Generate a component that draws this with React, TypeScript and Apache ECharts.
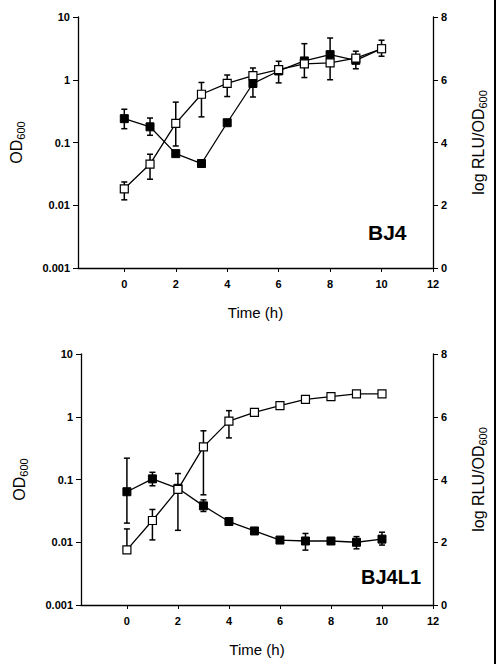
import React, { useEffect, useRef } from "react";
import * as echarts from "echarts";

const times = [0, 1, 2, 3, 4, 5, 6, 7, 8, 9, 10];
const xTickValues = [0, 2, 4, 6, 8, 10, 12];

// Panel A (BJ4)
const bj4Od = [0.0183, 0.0453, 0.202, 0.587, 0.873, 1.16, 1.45, 1.79, 1.86, 2.21, 3.12];
const bj4OdErr: [number, number, number][] = [
  [0, 0.0122, 0.0235],
  [1, 0.026, 0.065],
  [2, 0.088, 0.44],
  [3, 0.256, 0.905],
  [4, 0.54, 1.19],
  [5, 1.16, 1.54],
];
const bj4Rlu = [4.76, 4.5, 3.645, 3.33, 4.63, 5.88, 6.28, 6.6, 6.8, 6.62, 6.99];
const bj4RluErr: [number, number, number][] = [
  [0, 4.44, 5.06],
  [1, 4.23, 4.78],
  [5, 5.45, 6.25],
  [6, 5.9, 6.59],
  [7, 6.07, 7.15],
  [8, 6.0, 7.33],
  [9, 6.35, 6.91],
  [10, 6.75, 7.26],
];

// Panel B (BJ4L1)
const bj4l1Od = [0.00754, 0.0222, 0.0697, 0.331, 0.852, 1.17, 1.5, 1.89, 2.09, 2.31, 2.31];
const bj4l1OdErr: [number, number, number][] = [
  [0, 0.00754, 0.0163],
  [1, 0.0109, 0.0333],
  [3, 0.057, 0.597],
  [4, 0.46, 1.25],
];
const bj4l1Rlu = [3.61, 4.02, 3.72, 3.16, 2.66, 2.36, 2.07, 2.04, 2.04, 2.0, 2.1];
const bj4l1RluErr: [number, number, number][] = [
  [0, 2.61, 4.68],
  [1, 3.8, 4.23],
  [2, 2.38, 4.19],
  [3, 2.98, 3.35],
  [7, 1.75, 2.28],
  [9, 1.79, 2.18],
  [10, 1.91, 2.32],
];

const leftTicks = ["0.001", "0.01", "0.1", "1", "10"];
const rightTicks = [0, 2, 4, 6, 8];
const panelLabels = ["BJ4", "BJ4L1"];

const FONT = "Liberation Sans, Arial, sans-serif";

function errRender(params: any, api: any) {
  const x = api.value(0);
  const lo = api.coord([x, api.value(1)]);
  const hi = api.coord([x, api.value(2)]);
  const cap = 3;
  const style = { stroke: "#000", lineWidth: 1.5 };
  return {
    type: "group",
    children: [
      { type: "line", shape: { x1: lo[0], y1: lo[1], x2: hi[0], y2: hi[1] }, style },
      { type: "line", shape: { x1: hi[0] - cap, y1: hi[1], x2: hi[0] + cap, y2: hi[1] }, style },
      { type: "line", shape: { x1: lo[0] - cap, y1: lo[1], x2: lo[0] + cap, y2: lo[1] }, style },
    ],
  };
}

const rich = {
  b: { fontSize: 16, fontFamily: FONT, color: "#000" },
  s: { fontSize: 11, fontFamily: FONT, color: "#000", padding: [8, 0, 0, 0] },
};

export default function App() {
  const ref = useRef<HTMLDivElement>(null);
  useEffect(() => {
    document.body.style.margin = "0";
    const chart = echarts.init(ref.current!, null, { renderer: "svg" });
    const grids = [
      { left: 78, top: 17, width: 359, height: 251 },
      { left: 81, top: 354, width: 360, height: 251 },
    ];
    const xAxes = grids.map((_, i) => ({
      type: "value",
      gridIndex: i,
      min: -1.8,
      max: 12,
      name: "Time (h)",
      nameLocation: "middle",
      nameGap: 37,
      nameTextStyle: { fontSize: 15, fontFamily: FONT, color: "#000" },
      axisLine: { onZero: false, lineStyle: { color: "#000", width: 1.3 } },
      axisTick: { show: true, customValues: xTickValues, length: 4, lineStyle: { color: "#000" } },
      axisLabel: {
        customValues: xTickValues,
        fontSize: 11,
        fontWeight: "bold",
        fontFamily: FONT,
        color: "#000",
        margin: 10,
      },
      splitLine: { show: false },
    }));
    const yAxes: any[] = [];
    grids.forEach((_, i) => {
      yAxes.push({
        type: "log",
        logBase: 10,
        gridIndex: i,
        min: 0.001,
        max: 10,
        position: "left",
        name: "{b|OD}{s|600}",
        nameLocation: "middle",
        nameGap: 52,
        nameRotate: 90,
        nameTextStyle: { rich },
        axisLine: { show: true, onZero: false, lineStyle: { color: "#000", width: 1.3 } },
        axisTick: { show: true, length: 5, lineStyle: { color: "#000" } },
        minorTick: { show: false },
        axisLabel: {
          fontSize: 11,
          fontWeight: "bold",
          fontFamily: FONT,
          color: "#000",
          margin: 8,
          formatter: (v: number) => {
            const idx = Math.round(Math.log10(v)) + 3;
            return leftTicks[idx] ?? "";
          },
        },
        splitLine: { show: false },
      });
      yAxes.push({
        type: "value",
        gridIndex: i,
        min: 0,
        max: 8,
        interval: 2,
        position: "right",
        name: "{b|log RLU/OD}{s|600}",
        nameLocation: "middle",
        nameGap: 36,
        nameRotate: 90,
        nameTextStyle: { rich },
        axisLine: { show: true, onZero: false, lineStyle: { color: "#000", width: 1.3 } },
        axisTick: { show: true, length: 5, lineStyle: { color: "#000" } },
        axisLabel: {
          fontSize: 11,
          fontWeight: "bold",
          fontFamily: FONT,
          color: "#000",
          margin: 8,
          formatter: (v: number) => (rightTicks.includes(v) ? String(v) : ""),
        },
        splitLine: { show: false },
      });
    });

    const panels = [
      { od: bj4Od, odErr: bj4OdErr, rlu: bj4Rlu, rluErr: bj4RluErr },
      { od: bj4l1Od, odErr: bj4l1OdErr, rlu: bj4l1Rlu, rluErr: bj4l1RluErr },
    ];
    const series: any[] = [];
    panels.forEach((p, i) => {
      series.push({
        type: "custom",
        xAxisIndex: i,
        yAxisIndex: i * 2,
        renderItem: errRender,
        data: p.odErr,
        encode: { x: 0, y: [1, 2] },
        z: 1,
        silent: true,
      });
      series.push({
        type: "custom",
        xAxisIndex: i,
        yAxisIndex: i * 2 + 1,
        renderItem: errRender,
        data: p.rluErr,
        encode: { x: 0, y: [1, 2] },
        z: 1,
        silent: true,
      });
      series.push({
        type: "line",
        xAxisIndex: i,
        yAxisIndex: i * 2 + 1,
        data: times.map((t, k) => [t, p.rlu[k]]),
        symbol: "rect",
        symbolSize: 8,
        lineStyle: { color: "#000", width: 1.3 },
        itemStyle: { color: "#000", borderColor: "#000", borderWidth: 1 },
        z: 3,
      });
      series.push({
        type: "line",
        xAxisIndex: i,
        yAxisIndex: i * 2,
        data: times.map((t, k) => [t, p.od[k]]),
        symbol: "rect",
        symbolSize: 8,
        showAllSymbol: true,
        lineStyle: { color: "#000", width: 1.3 },
        itemStyle: { color: "#fff", borderColor: "#000", borderWidth: 1.2 },
        z: 4,
      });
    });

    chart.setOption({
      animation: false,
      backgroundColor: "#fff",
      grid: grids,
      xAxis: xAxes,
      yAxis: yAxes,
      series,
      graphic: [
        {
          type: "text",
          left: 368,
          top: 222,
          style: { text: panelLabels[0], fontSize: 21, fontWeight: "bold", fontFamily: FONT, fill: "#000" },
        },
        {
          type: "text",
          left: 361,
          top: 567,
          style: { text: panelLabels[1], fontSize: 20, fontWeight: "bold", fontFamily: FONT, fill: "#000" },
        },
        {
          type: "rect",
          shape: { x: 494, y: 0, width: 2, height: 664 },
          style: { fill: "#000" },
        },
      ],
    });
    return () => chart.dispose();
  }, []);
  return (
    <div
      ref={ref}
      style={{ position: "fixed", left: 0, top: 0, width: 496, height: 664 }}
    />
  );
}
